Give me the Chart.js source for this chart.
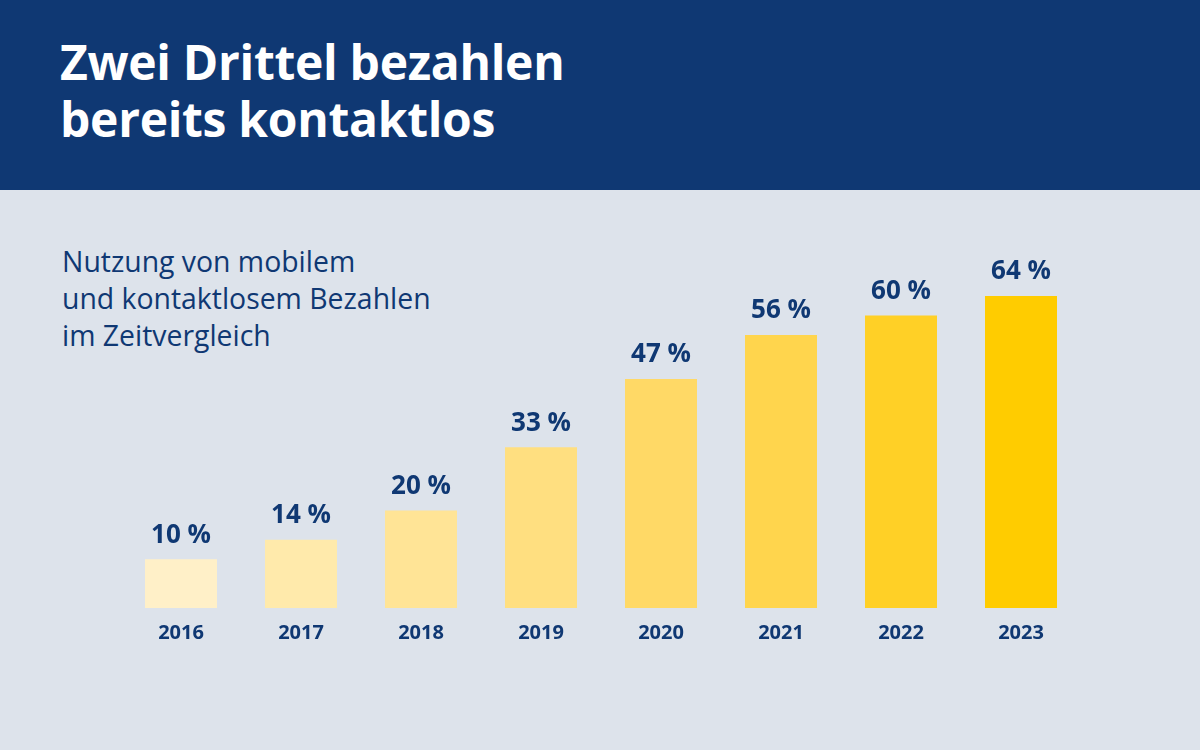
<!DOCTYPE html>
<html>
<head>
<meta charset="utf-8">
<script src="https://cdn.jsdelivr.net/npm/chart.js@4"></script>
<style>
  body { margin: 0; width: 1200px; height: 750px; background: #dde3eb; font-family: "Open Sans", sans-serif; position: relative; overflow: hidden; }
  .header { position: absolute; left: 0; top: 0; width: 1200px; height: 190px; background: #0f3873; }
  .header h1 { position: absolute; left: 60px; top: 33px; margin: 0; color: #fff; font-size: 48px; line-height: 57px; font-weight: 700; letter-spacing: -0.3px; }
  .sub { position: absolute; left: 62px; top: 243px; color: #0f3873; font-size: 28.4px; line-height: 37px; }
  .wrap { position: absolute; left: 0; top: 190px; width: 1200px; height: 560px; }
</style>
</head>
<body>
<div class="header"><h1>Zwei Drittel bezahlen<br>bereits kontaktlos</h1></div>
<div class="sub">Nutzung von mobilem<br>und kontaktlosem Bezahlen<br>im Zeitvergleich</div>
<div class="wrap"><canvas id="myChart"></canvas></div>
<script>
// Daten
const years = ['2016', '2017', '2018', '2019', '2020', '2021', '2022', '2023'];
const shares = [10, 14, 20, 33, 47, 56, 60, 64];
const barColors = ['#fff0c8', '#ffeaab', '#ffe496', '#ffdf80', '#ffd966', '#ffd54d', '#ffd026', '#ffcc00'];

const darkBlue = '#0f3873';

// Werte über den Balken
const valueLabels = {
    id: 'valueLabels',
    afterDatasetsDraw(chart) {
        const ctx = chart.ctx;
        const meta = chart.getDatasetMeta(0);
        ctx.save();
        ctx.fillStyle = darkBlue;
        ctx.font = 'bold 26px "Open Sans"';
        ctx.textAlign = 'center';
        ctx.textBaseline = 'middle';
        meta.data.forEach(function(bar, i) {
            ctx.fillText(shares[i] + ' %', bar.x, bar.y - 24);
        });
        ctx.restore();
    }
};

const config = {
    type: 'bar',
    data: {
        labels: years,
        datasets: [{
            data: shares,
            backgroundColor: barColors,
            categoryPercentage: 1,
            barPercentage: 0.6
        }]
    },
    options: {
        responsive: true,
        maintainAspectRatio: false,
        animation: false,
        layout: { padding: { left: 121, right: 119, top: 28, bottom: 92 } },
        plugins: { legend: { display: false }, tooltip: { enabled: false } },
        scales: {
            x: {
                grid: { display: false, drawTicks: false },
                border: { display: false },
                ticks: { color: darkBlue, font: { family: 'Open Sans', size: 20, weight: 'bold' }, padding: 13 }
            },
            y: {
                display: false,
                min: 0,
                max: 80
            }
        }
    },
    plugins: [valueLabels]
};

const chart = new Chart(document.getElementById('myChart'), config);
</script>
</body>
</html>
